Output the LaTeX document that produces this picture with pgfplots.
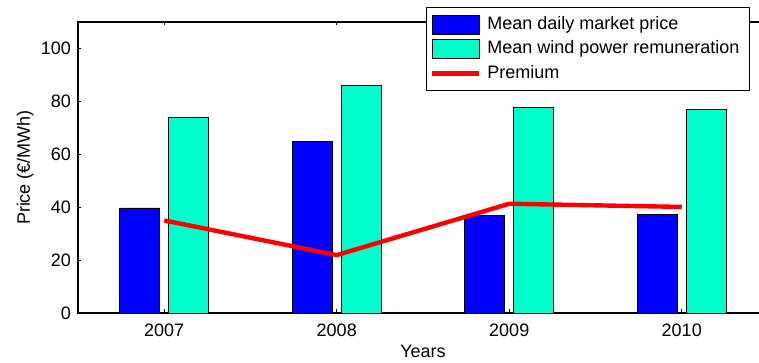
\documentclass[border=0pt]{standalone}
\usepackage{fontspec}
\setmainfont{Liberation Sans}
\setsansfont{Liberation Sans}
\usepackage{pgfplots}
\pgfplotsset{compat=1.18}
\definecolor{mblue}{RGB}{0,0,255}
\definecolor{mcyan}{RGB}{0,255,204}
\definecolor{mred}{RGB}{255,0,0}
\pgfplotsset{
  barleg/.style={legend image code/.code={\draw[##1] (0pt,-4.75pt) rectangle (23.5pt,4.75pt);}},
  lineleg/.style={legend image code/.code={\draw[##1] (0pt,0pt) -- (23.5pt,0pt);}},
}
\begin{document}
\begin{tikzpicture}
\begin{axis}[
 at={(0,0)}, anchor=south west,
 scale only axis, width=345pt, height=145.5pt,
 xmin=2006.5, xmax=2010.5, ymin=0, ymax=110,
 xtick={2007,2008,2009,2010}, xticklabels={2007,2008,2009,2010},
 ytick={0,20,...,100},
 tick align=inside, major tick length=1.75pt,
 tick style={black, line width=0.4pt},
 axis line style={line width=0.6pt},
 font=\fontsize{9}{10.8}\selectfont,
 /pgf/number format/assume math mode=true,
 xticklabel style={yshift=-2pt},
 xlabel={Years}, ylabel={Price (€/MWh)},
 xlabel style={at={(axis description cs:0.5,-0.11)}, anchor=north, inner sep=0pt},
 ylabel style={at={(axis description cs:-0.0638,0.5)}, anchor=south, inner sep=0pt},
 legend cell align=left,
 legend style={at={(0.9740,1.0503)}, anchor=north east, draw=black, line width=0.5pt, fill=white,
   font=\fontsize{9}{10.8}\selectfont, inner xsep=2pt, inner ysep=2.2pt, row sep=0pt,
   nodes={inner xsep=3pt, inner ysep=1.875pt, text height=6.5pt, text depth=2pt}},
]
\addplot[ybar, bar width=20pt, bar shift=-12.25pt, fill=mblue, draw=black, line width=0.4pt, barleg]
  coordinates {(2007,39.7) (2008,64.7) (2009,36.9) (2010,37.3)};
\addlegendentry{Mean daily market price}
\addplot[ybar, bar width=20pt, bar shift=12.25pt, fill=mcyan, draw=black, line width=0.4pt, barleg]
  coordinates {(2007,74.1) (2008,85.9) (2009,77.7) (2010,76.9)};
\addlegendentry{Mean wind power remuneration}
\addplot[mred, line width=2.2pt, mark=none, lineleg]
  coordinates {(2007,35.0) (2008,21.9) (2009,41.3) (2010,40.1)};
\addlegendentry{Premium}
\end{axis}
\pgfresetboundingbox
\useasboundingbox (-39pt,-25pt) rectangle (340.5pt,156.5pt);
\end{tikzpicture}
\end{document}
